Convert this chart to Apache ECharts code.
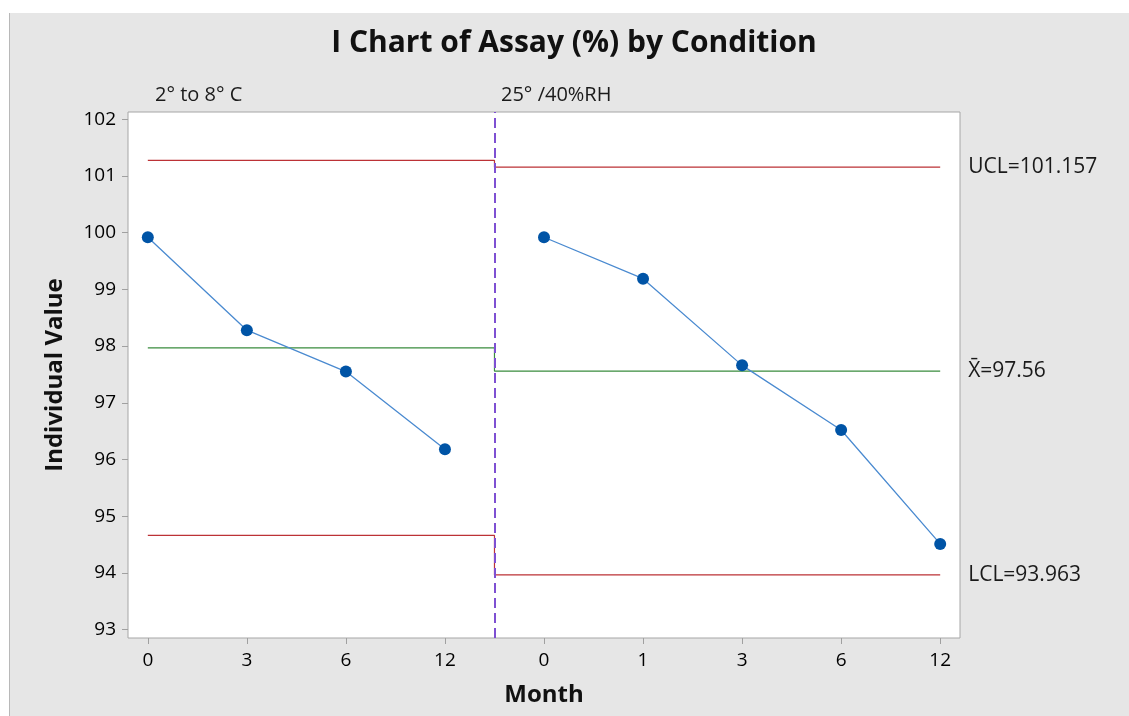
<!DOCTYPE html>
<html>
<head>
<meta charset="utf-8">
<script src="https://cdn.jsdelivr.net/npm/echarts@6/dist/echarts.min.js"></script>
<style>
  html, body { margin: 0; padding: 0; background: #fff; }
  #wrap { position: relative; width: 1129px; height: 716px; background: #fff; }
  #frame { position: absolute; left: 9px; top: 13px; right: 0; bottom: 0; background: #e6e6e6; border-left: 1px solid #b8b8b8; }
  #chart { position: absolute; left: 0; top: 0; width: 1129px; height: 716px; }
</style>
</head>
<body>
<div id="wrap">
  <div id="frame"></div>
  <div id="chart"></div>
</div>
<script>
// 数据
var months = ['0', '3', '6', '12', '0', '1', '3', '6', '12'];
var conditions = ['2° to 8° C', '25° /40%RH'];
var assayCold = [99.92, 98.28, 97.55, 96.18];          // 2-8 C, month 0,3,6,12
var assayWarm = [99.92, 99.19, 97.66, 96.52, 94.51];   // 25C/40%RH, month 0,1,3,6,12
var uclValues = [101.276, 101.157];
var meanValues = [97.97, 97.56];
var lclValues = [94.66, 93.963];
var yTicks = [93, 94, 95, 96, 97, 98, 99, 100, 101, 102];

var split = assayCold.length - 0.5;   // 分隔线位置
var lastIdx = months.length - 1;

function pts(arr, offset){
	var out = [];
	for(var i = 0; i < arr.length; i++){
		out.push([i + offset, arr[i]]);
	}
	return out;
}
// 控制限是阶梯线
function stepLine(vals){
	return [[0, vals[0]], [split, vals[0]], [split, vals[1]], [lastIdx, vals[1]]];
}

var font = '"Open Sans", "Noto Sans", sans-serif';
var red = '#bc3236';
var green = '#3a8c3e';

var myChart = echarts.init(document.getElementById('chart'));
var option = {
	backgroundColor: 'transparent',
	animation: false,
	textStyle: { fontFamily: font },
	grid: {
		left: 128,
		top: 112,
		right: 169,
		bottom: 78,
		show: true,
		backgroundColor: '#fff',
		borderColor: '#a6a6a6',
		borderWidth: 1
	},
	graphic: [
		{
			type: 'text', x: 574, y: 43,
			style: { text: 'I Chart of Assay (%) by Condition', font: 'bold 30px ' + font, fill: '#111', textAlign: 'center', textVerticalAlign: 'middle' }
		},
		{
			type: 'text', left: 155, top: 85,
			style: { text: conditions[0], font: '20px ' + font, fill: '#1a1a1a' }
		},
		{
			type: 'text', left: 501, top: 85,
			style: { text: conditions[1], font: '20px ' + font, fill: '#1a1a1a' }
		}
	],
	xAxis: {
		type: 'value',
		min: -0.2,
		max: 8.2,
		name: 'Month',
		nameLocation: 'middle',
		nameGap: 45,
		nameTextStyle: { fontSize: 24, fontWeight: 'bold', color: '#111' },
		axisLine: { show: false, onZero: false },
		axisTick: { show: true, length: 6, lineStyle: { color: '#a0a0a0' }, customValues: [0, 1, 2, 3, 4, 5, 6, 7, 8] },
		axisLabel: {
			fontSize: 19, color: '#000', margin: 13,
			customValues: [0, 1, 2, 3, 4, 5, 6, 7, 8],
			formatter: function(v){ return months[Math.round(v)]; }
		},
		splitLine: { show: false }
	},
	yAxis: {
		type: 'value',
		min: 92.85,
		max: 102.13,
		name: 'Individual Value',
		nameLocation: 'middle',
		nameGap: 61,
		nameTextStyle: { fontSize: 24, fontWeight: 'bold', color: '#111' },
		axisLine: { show: false, onZero: false },
		axisTick: { show: true, length: 6, lineStyle: { color: '#a0a0a0' }, customValues: yTicks },
		axisLabel: { fontSize: 19, color: '#000', margin: 12, customValues: yTicks },
		splitLine: { show: false }
	},
	series: [
		{
			name: 'UCL', type: 'line', data: stepLine(uclValues),
			symbol: 'none', lineStyle: { color: red, width: 1.2 },
			endLabel: { show: true, distance: 28, fontSize: 21, color: '#1a1a1a', formatter: 'UCL=' + uclValues[1] },
			z: 3
		},
		{
			name: 'Mean', type: 'line', data: stepLine(meanValues),
			symbol: 'none', lineStyle: { color: green, width: 1.2 },
			endLabel: { show: true, distance: 28, fontSize: 21, color: '#1a1a1a', formatter: 'X\u0304=' + meanValues[1] },
			z: 3
		},
		{
			name: 'LCL', type: 'line', data: stepLine(lclValues),
			symbol: 'none', lineStyle: { color: red, width: 1.2 },
			endLabel: { show: true, distance: 28, fontSize: 21, color: '#1a1a1a', formatter: 'LCL=' + lclValues[1] },
			markLine: {
				silent: true, symbol: 'none', label: { show: false },
				lineStyle: { color: '#7e50d2', type: [10, 5], width: 2 },
				data: [{ xAxis: split }]
			},
			z: 3
		},
		{
			name: conditions[0], type: 'line', data: pts(assayCold, 0),
			symbol: 'circle', symbolSize: 12,
			itemStyle: { color: '#0054a6' },
			lineStyle: { color: '#4a8ad0', width: 1.3 },
			z: 5
		},
		{
			name: conditions[1], type: 'line', data: pts(assayWarm, assayCold.length),
			symbol: 'circle', symbolSize: 12,
			itemStyle: { color: '#0054a6' },
			lineStyle: { color: '#4a8ad0', width: 1.3 },
			z: 5
		}
	]
};
myChart.setOption(option);
</script>
</body>
</html>
